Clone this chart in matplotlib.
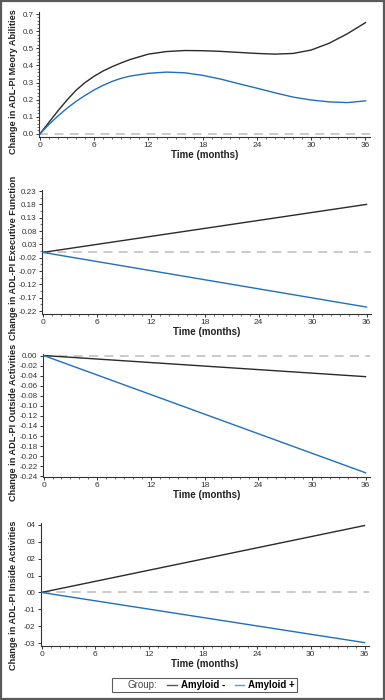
import matplotlib
matplotlib.use("Agg")
import matplotlib.pyplot as plt
from matplotlib.lines import Line2D
from matplotlib.patches import Rectangle
from matplotlib.ticker import MultipleLocator, FixedLocator

plt.rcParams["font.family"] = ["Liberation Sans", "DejaVu Sans"]

BLACK = "#2a2a2a"
BLUE = "#1f6fc0"
GRAY = "#c6c6c6"

# panel 1: memory abilities (smooth curves)
months_mem = [0, 1, 2, 3, 4, 5, 6, 7, 8, 9, 10, 12, 14, 16, 18, 20, 22, 24, 26, 28, 30, 32, 34, 36]
mem_neg = [0, 0.068, 0.135, 0.198, 0.255, 0.3, 0.337, 0.368, 0.393, 0.415, 0.435, 0.466, 0.481, 0.487,
           0.486, 0.482, 0.476, 0.47, 0.466, 0.47, 0.49, 0.53, 0.585, 0.65]
mem_pos = [0, 0.055, 0.105, 0.15, 0.19, 0.225, 0.257, 0.284, 0.307, 0.325, 0.338, 0.354, 0.361, 0.357,
           0.342, 0.32, 0.293, 0.267, 0.24, 0.215, 0.198, 0.187, 0.183, 0.193]

# panels 2-4: linear trajectories
months_lin = [0, 36]
exe_neg = [0.0, 0.18]
exe_pos = [0.0, -0.205]
out_neg = [0.0, -0.042]
out_pos = [0.0, -0.233]
ins_neg = [0.0, 0.0395]
ins_pos = [0.0, -0.0296]

ylabels = [
    "Change in ADL-PI Meory Abilities",
    "Change in ADL-PI Executive Function",
    "Change in ADL-PI Outside Activities",
    "Change in ADL-PI Inside Activities",
]
yticks_exe = [0.23, 0.18, 0.13, 0.08, 0.03, -0.02, -0.07, -0.12, -0.17, -0.22]
yticks_out = [0.0, -0.02, -0.04, -0.06, -0.08, -0.10, -0.12, -0.14, -0.16, -0.18, -0.20, -0.22, -0.24]
yticks_ins = [0.04, 0.03, 0.02, 0.01, 0.0, -0.01, -0.02, -0.03]
yticklabels_ins = ["04", "03", "02", "01", "00", "-01", "-02", "-03"]
xticks = [0, 6, 12, 18, 24, 30, 36]

W, H = 385, 700
fig = plt.figure(figsize=(W / 100, H / 100), dpi=100)


def make_ax(left, right, top, bottom):
    return fig.add_axes([left / W, 1 - bottom / H, (right - left) / W, (bottom - top) / H])


def style(ax, ylim):
    ax.set_xlim(-0.1, 36.5)
    ax.set_ylim(*ylim)
    for s in ["top", "right"]:
        ax.spines[s].set_visible(False)
    for s in ["left", "bottom"]:
        ax.spines[s].set_color("#333333")
        ax.spines[s].set_linewidth(0.8)
    ax.set_xticks(xticks)
    ax.xaxis.set_minor_locator(MultipleLocator(1))
    ax.tick_params(which="major", length=2.5, width=0.7, labelsize=6, pad=1.2,
                   colors="#333333", labelcolor="#333333")
    ax.tick_params(axis="y", which="major", labelsize=5.8)
    ax.tick_params(which="minor", length=1.5, width=0.6, colors="#555555")
    ax.set_xlabel("Time (months)", fontsize=7, fontweight="bold", labelpad=0.5, color="#222222")
    ax.axhline(0, color=GRAY, lw=1.3, ls=(0, (5, 3.5)), zorder=1)


axes = [
    make_ax(39, 370, 12, 137),
    make_ax(42, 371, 190, 314),
    make_ax(42.7, 370, 354, 477),
    make_ax(40.7, 369, 523, 646),
]

ax = axes[0]
style(ax, (-0.018, 0.712))
ax.plot(months_mem, mem_neg, color=BLACK, lw=1.0, zorder=3)
ax.plot(months_mem, mem_pos, color=BLUE, lw=1.0, zorder=3)
ax.set_yticks([0.0, 0.1, 0.2, 0.3, 0.4, 0.5, 0.6, 0.7])
ax.set_yticklabels(["0.0", "0.1", "0.2", "0.3", "0.4", "0.5", "0.6", "0.7"])
ax.yaxis.set_minor_locator(MultipleLocator(0.02))

ax = axes[1]
style(ax, (-0.231, 0.234))
ax.plot(months_lin, exe_neg, color=BLACK, lw=1.0, zorder=3)
ax.plot(months_lin, exe_pos, color=BLUE, lw=1.0, zorder=3)
ax.set_yticks(yticks_exe)
ax.set_yticklabels([f"{v:.2f}" for v in yticks_exe])
ax.yaxis.set_minor_locator(FixedLocator([v - 0.025 for v in yticks_exe]))

ax = axes[2]
style(ax, (-0.2414, 0.003))
ax.plot(months_lin, out_neg, color=BLACK, lw=1.0, zorder=3)
ax.plot(months_lin, out_pos, color=BLUE, lw=1.0, zorder=3)
ax.set_yticks(yticks_out)
ax.set_yticklabels([f"{v:.2f}" for v in yticks_out])

ax = axes[3]
style(ax, (-0.0316, 0.041))
ax.plot(months_lin, ins_neg, color=BLACK, lw=1.0, zorder=3)
ax.plot(months_lin, ins_pos, color=BLUE, lw=1.0, zorder=3)
ax.set_yticks(yticks_ins)
ax.set_yticklabels(yticklabels_ins)

label_y = [82, 258, 422, 595]
for lab, y in zip(ylabels, label_y):
    fig.text(13.5 / W, 1 - y / H, lab, rotation=90, ha="center", va="center",
             fontsize=6.6, fontweight="bold", color="#222222")

blank = Line2D([], [], color="none")
leg = fig.legend([blank, Line2D([], [], color="#555555", lw=1.0), Line2D([], [], color="#5b9bd5", lw=1.0)],
                 ["Group:", "Amyloid -", "Amyloid +"],
                 loc="center", bbox_to_anchor=(204.5 / W, 1 - 685 / H), ncol=3,
                 fontsize=7, handlelength=1.0, handletextpad=0.4, columnspacing=1.0,
                 frameon=True, fancybox=False, borderpad=0.2, edgecolor="#333333")
leg.get_frame().set_linewidth(0.8)
texts = leg.get_texts()
texts[0].set_color("#444444")
texts[1].set_fontweight("bold")
texts[2].set_fontweight("bold")

fig.patches.append(Rectangle((0.002, 0.0015), 0.996, 0.997, transform=fig.transFigure,
                             fill=False, edgecolor="#5a5a5a", lw=1.6))

fig.savefig("out.png", dpi=100)
